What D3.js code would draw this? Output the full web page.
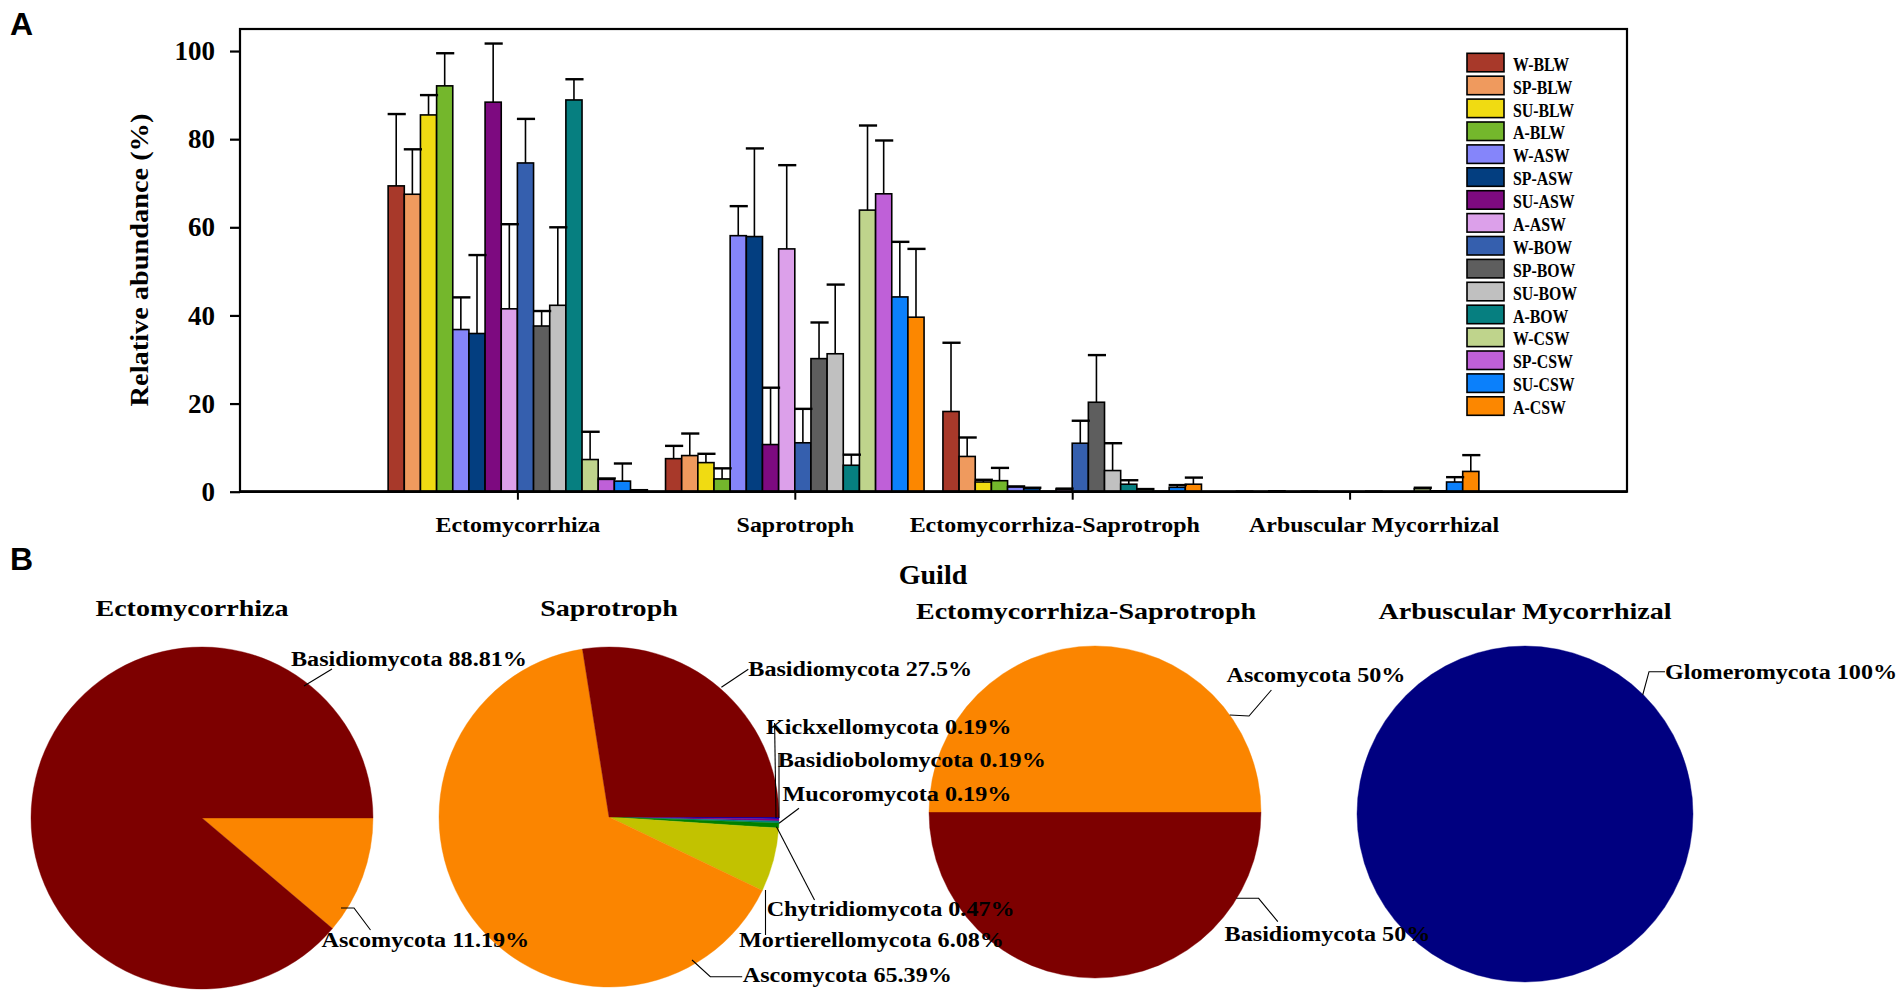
<!DOCTYPE html>
<html>
<head>
<meta charset="utf-8">
<script src="https://cdn.jsdelivr.net/npm/d3@7/dist/d3.min.js"></script>
<style>
  html, body { margin: 0; padding: 0; background: #fff; }
  svg { display: block; }
  text { font-family: "Liberation Serif", "Times New Roman", serif; font-weight: bold; fill: #000; }
</style>
</head>
<body>
<script>
// ---------------- DATA ----------------
const guilds = ["Ectomycorrhiza", "Saprotroph", "Ectomycorrhiza-Saprotroph", "Arbuscular Mycorrhizal"];
const seriesNames = ["W-BLW","SP-BLW","SU-BLW","A-BLW","W-ASW","SP-ASW","SU-ASW","A-ASW",
                     "W-BOW","SP-BOW","SU-BOW","A-BOW","W-CSW","SP-CSW","SU-CSW","A-CSW"];
const seriesColors = ["#a8392a","#ef9a5e","#f0db12","#74b72c","#8585fa","#033e80","#7d0a80","#dca0ea",
                      "#355fae","#5e5e5e","#c0c0c0","#067f80","#bfd48c","#bf60d8","#0b80fb","#fc8700"];

// mean relative abundance (%) per series, one array per guild
const ectoMean   = [69.4, 67.5, 85.5, 92.1, 36.8, 35.9, 88.4, 41.5, 74.6, 37.6, 42.3, 88.9, 7.3, 2.8, 2.4, 0.3];
const ectoSD     = [16.3, 10.2, 4.5, 7.4, 7.3, 17.8, 13.3, 19.2, 10.0, 3.4, 17.7, 4.7, 6.3, 0.2, 4.0, 0.05];
const saproMean  = [7.5, 8.2, 6.6, 2.9, 58.1, 57.9, 10.7, 55.1, 11.1, 30.2, 31.3, 6.0, 63.9, 67.6, 44.2, 39.6];
const saproSD    = [2.9, 5.0, 2.0, 2.4, 6.7, 20.0, 12.9, 19.0, 7.7, 8.2, 15.7, 2.4, 19.2, 12.1, 12.5, 15.5];
const ectoSapMean= [18.2, 8.0, 2.2, 2.5, 1.1, 0.8, 0.1, 0.6, 11.0, 20.3, 4.8, 1.7, 0.5, 0.1, 1.0, 1.7];
const ectoSapSD  = [15.6, 4.3, 0.5, 2.9, 0.1, 0.1, 0, 0.1, 5.1, 10.7, 6.2, 0.9, 0.1, 0, 0.5, 1.5];
const arbMean    = [0, 0.1, 0, 0.2, 0, 0.1, 0, 0, 0, 0.1, 0, 0, 0.7, 0.2, 2.2, 4.6];
const arbSD      = [0, 0, 0, 0, 0, 0, 0, 0, 0, 0, 0, 0, 0.2, 0, 1.1, 3.7];
const yTicks = [0, 20, 40, 60, 80, 100];

// pie data (phylum composition per guild, clockwise from 3 o'clock)
const pieTitles = ["Ectomycorrhiza", "Saprotroph", "Ectomycorrhiza-Saprotroph", "Arbuscular Mycorrhizal"];
const ectoPhyla    = ["Ascomycota", "Basidiomycota"];
const ectoPct      = [11.19, 88.81];
const saproPhyla   = ["Kickxellomycota","Basidiobolomycota","Mucoromycota","Chytridiomycota","Mortierellomycota","Ascomycota","Basidiomycota"];
const saproPct     = [0.19, 0.19, 0.19, 0.47, 6.08, 65.39, 27.5];
const ectoSapPhyla = ["Basidiomycota", "Ascomycota"];
const ectoSapPct   = [50, 50];
const arbPhyla     = ["Glomeromycota"];
const arbPct       = [100];
const phylumColors = {
  "Basidiomycota": "#7d0000", "Ascomycota": "#fb8500", "Glomeromycota": "#000080",
  "Mortierellomycota": "#c2c200", "Chytridiomycota": "#008000", "Mucoromycota": "#008080",
  "Basidiobolomycota": "#800080", "Kickxellomycota": "#0000c0"
};

// ---------------- CHART ----------------
const W = 1904, H = 992;
const svg = d3.select("body").append("svg").attr("width", W).attr("height", H);

function stretchText(g, x, y, str, size, sx, anchor) {
  return g.append("text")
    .attr("transform", `translate(${x},${y}) scale(${sx},1)`)
    .attr("text-anchor", anchor || "start")
    .style("font-size", size + "px")
    .text(str);
}

// Panel labels
svg.append("text").attr("x", 10).attr("y", 35)
  .style("font-family", "'Liberation Sans', Arial, sans-serif").style("font-size", "32px").text("A");
svg.append("text").attr("x", 10).attr("y", 570)
  .style("font-family", "'Liberation Sans', Arial, sans-serif").style("font-size", "32px").text("B");

// Bar chart
const plotL = 240, plotR = 1627, plotT = 29, plotB = 491.7;
const x = d3.scaleLinear().domain([0, 5]).range([plotL, plotR]);
const y = d3.scaleLinear().domain([0, 105]).range([plotB, plotT]);
const groupW = (x(1) - x(0)) * 0.932;
const inner = d3.scaleBand().domain(seriesNames).range([-groupW / 2, groupW / 2]).padding(0);
const color = d3.scaleOrdinal().domain(seriesNames).range(seriesColors);

const means = [ectoMean, saproMean, ectoSapMean, arbMean];
const sds = [ectoSD, saproSD, ectoSapSD, arbSD];
const barData = [];
guilds.forEach((g, gi) => {
  seriesNames.forEach((s, si) => {
    barData.push({ guild: g, gi: gi, series: s, mean: means[gi][si], sd: sds[gi][si] });
  });
});

const bars = svg.append("g");
bars.selectAll("rect").data(barData.filter(d => d.mean > 0)).join("rect")
  .attr("x", d => x(d.gi + 1) + inner(d.series))
  .attr("y", d => y(d.mean))
  .attr("width", inner.bandwidth())
  .attr("height", d => y(0) - y(d.mean))
  .attr("fill", d => color(d.series))
  .attr("stroke", "#000").attr("stroke-width", 1.6);

const errs = svg.append("g").attr("stroke", "#000");
const errData = barData.filter(d => d.sd > 0);
errs.selectAll("line.v").data(errData).join("line").attr("class", "v")
  .attr("x1", d => x(d.gi + 1) + inner(d.series) + inner.bandwidth() / 2)
  .attr("x2", d => x(d.gi + 1) + inner(d.series) + inner.bandwidth() / 2)
  .attr("y1", d => y(d.mean)).attr("y2", d => y(d.mean + d.sd))
  .attr("stroke-width", 1.6);
errs.selectAll("line.c").data(errData).join("line").attr("class", "c")
  .attr("x1", d => x(d.gi + 1) + inner(d.series) - 0.5)
  .attr("x2", d => x(d.gi + 1) + inner(d.series) + inner.bandwidth() + 1.5)
  .attr("y1", d => y(d.mean + d.sd)).attr("y2", d => y(d.mean + d.sd))
  .attr("stroke-width", 2.4);

// Frame
svg.append("rect").attr("x", plotL).attr("y", plotT)
  .attr("width", plotR - plotL).attr("height", plotB - plotT)
  .attr("fill", "none").attr("stroke", "#000").attr("stroke-width", 2.2);
svg.append("line").attr("x1", plotL).attr("x2", plotR).attr("y1", plotB).attr("y2", plotB)
  .attr("stroke", "#000").attr("stroke-width", 2.8);

// Y axis
const yAxis = svg.append("g").attr("transform", `translate(${plotL},0)`)
  .call(d3.axisLeft(y).tickValues(yTicks).tickSize(10).tickPadding(15).tickFormat(d3.format("d")));
yAxis.select(".domain").remove();
yAxis.selectAll("line").attr("stroke-width", 2.2);
yAxis.selectAll("text").style("font-size", "27px").style("font-family", "'Liberation Serif', serif").attr("fill", "#000");

// X axis (category labels nudged as in the original layout)
const xLabelNudge = [0, 0, -18, 24];
const xAxis = svg.append("g").attr("transform", `translate(0,${plotB})`)
  .call(d3.axisBottom(x).tickValues([1, 2, 3, 4]).tickSize(8).tickPadding(17).tickFormat(i => guilds[i - 1]));
xAxis.select(".domain").remove();
xAxis.selectAll("line").attr("stroke-width", 2);
xAxis.selectAll("text").style("font-size", "21px").style("font-family", "'Liberation Serif', serif")
  .attr("fill", "#000")
  .attr("transform", (d, i) => `translate(${xLabelNudge[i]},0) scale(1.14,1)`);

// Axis titles
stretchText(svg, 0, 0, "Relative abundance (%)", 26, 1.09, "middle")
  .attr("transform", `translate(148,260) rotate(-90) scale(1.09,1)`);
stretchText(svg, 933, 584, "Guild", 28, 1.0, "middle");

// Legend
const legend = svg.append("g").attr("transform", "translate(1467,53.3)");
const legRow = legend.selectAll("g").data(seriesNames).join("g")
  .attr("transform", (d, i) => `translate(0,${i * 22.9})`);
legRow.append("rect").attr("width", 37).attr("height", 18.5)
  .attr("fill", d => color(d)).attr("stroke", "#000").attr("stroke-width", 1.6);
legRow.each(function(d) { stretchText(d3.select(this), 46, 17.4, d, 18, 0.88, "start"); });

// ---------------- PIES ----------------
const pieDefs = [
  { phyla: ectoPhyla, pct: ectoPct, cx: 202, cy: 818, r: 171, tx: 192, ty: 616,
    labels: [
      { t: [119.5, 129], l: [[139, 90], [152, 90], [168.5, 112]] },
      { t: [89, -152], l: [[102, -132], [130, -149]] }
    ] },
  { phyla: saproPhyla, pct: saproPct, cx: 609, cy: 817, r: 170, tx: 609, ty: 616,
    labels: [
      { t: [157, -83], l: [[165.6, -94], [167, 1]] },
      { t: [168.7, -49.8], l: [[170, -64], [170, 1]] },
      { t: [173.6, -16.4], l: [[190, -8.7], [170, 6.3]] },
      { t: [157.7, 98.6], l: [[205.5, 83], [167.5, 9.7]] },
      { t: [130.1, 130.2], l: [[156.5, 73], [156.5, 118]] },
      { t: [133.8, 165.2], l: [[83, 143], [101.3, 159.7], [133.2, 159.7]] },
      { t: [139.3, -141.4], l: [[112.4, -129.7], [139.3, -147.7]] }
    ] },
  { phyla: ectoSapPhyla, pct: ectoSapPct, cx: 1095, cy: 812, r: 166, tx: 1086, ty: 619,
    labels: [
      { t: [129.6, 128.6], l: [[141.2, 86.3], [163.6, 86.3], [182.8, 109.7]] },
      { t: [131.5, -129.8], l: [[134.7, -97], [154, -96], [176.4, -122]] }
    ] },
  { phyla: arbPhyla, pct: arbPct, cx: 1525, cy: 814, r: 168, tx: 1525, ty: 619,
    labels: [
      { t: [140, -135], l: [[117.7, -119], [124, -142.3], [140, -142.3]] }
    ] }
];

const pieGen = d3.pie().sort(null).value(d => d.v)
  .startAngle(Math.PI / 2).endAngle(Math.PI / 2 + 2 * Math.PI);

const pieLayer = svg.append("g");
const labelLayer = svg.append("g");

pieDefs.forEach((p, pi) => {
  const arc = d3.arc().innerRadius(0).outerRadius(p.r);
  const data = p.phyla.map((n, i) => ({ name: n, v: p.pct[i] }));
  const g = pieLayer.append("g").attr("transform", `translate(${p.cx},${p.cy})`);
  g.selectAll("path").data(pieGen(data)).join("path")
    .attr("d", arc).attr("fill", d => phylumColors[d.data.name])
    .attr("stroke", d => phylumColors[d.data.name]).attr("stroke-width", 0.4);

  stretchText(labelLayer, p.tx, p.ty, pieTitles[pi], 23, 1.22, "middle");

  const lg = labelLayer.append("g").attr("transform", `translate(${p.cx},${p.cy})`);
  data.forEach((d, i) => {
    const L = p.labels[i];
    lg.append("path").attr("d", d3.line()(L.l)).attr("fill", "none")
      .attr("stroke", "#000").attr("stroke-width", 1.1);
    stretchText(lg, L.t[0], L.t[1], `${d.name} ${d.v}%`, 21, 1.15, "start");
  });
});
</script>
</body>
</html>
